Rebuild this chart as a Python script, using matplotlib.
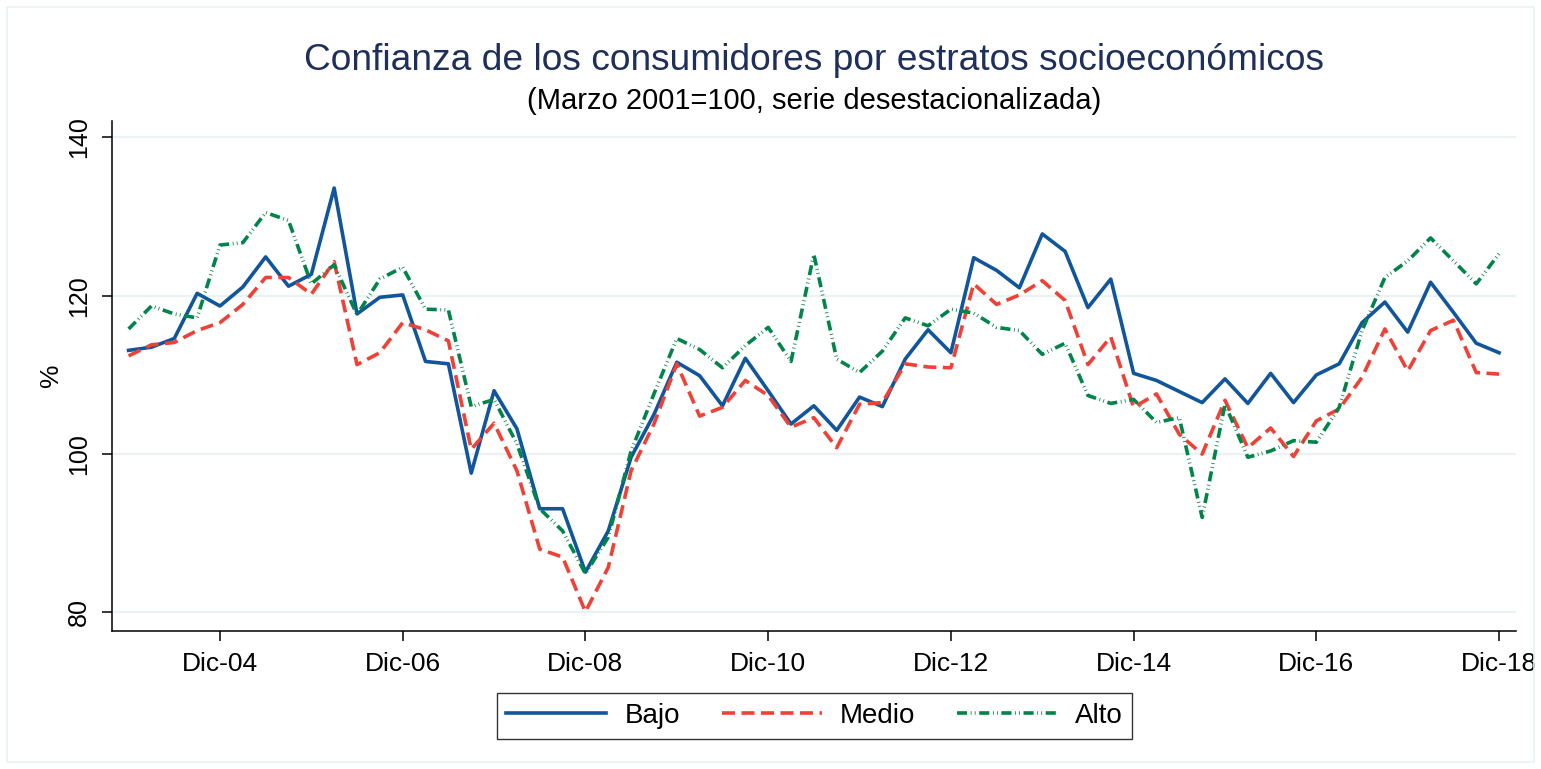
import matplotlib
matplotlib.use("Agg")
import matplotlib.pyplot as plt
from matplotlib.patches import Rectangle
import pandas as pd

# ---------------- data ----------------
periods = pd.period_range("2003Q4", "2018Q4", freq="Q")
month_es = {3: "Mar", 6: "Jun", 9: "Sep", 12: "Dic"}
quarter_labels = [f"{month_es[p.end_time.month]}-{str(p.year)[2:]}" for p in periods]

bajo = [113.1, 113.5, 114.6, 120.3, 118.7, 121.1, 124.9, 121.2, 122.7, 133.6,
        117.7, 119.8, 120.1, 111.7, 111.4, 97.6, 108.0, 103.2, 93.1, 93.1,
        85.1, 90.3, 99.6, 105.0, 111.6, 109.9, 106.1, 112.1, 108.0, 103.8,
        106.1, 103.0, 107.2, 106.0, 112.0, 115.7, 112.8, 124.8, 123.2, 121.0,
        127.8, 125.6, 118.5, 122.1, 110.2, 109.3, 107.9, 106.5, 109.5, 106.4,
        110.2, 106.5, 110.0, 111.4, 116.6, 119.2, 115.4, 121.7, 117.9, 114.0,
        112.8]
medio = [112.4, 113.8, 114.1, 115.6, 116.6, 118.9, 122.3, 122.3, 120.2, 124.3,
         111.3, 112.8, 116.6, 115.7, 114.3, 100.6, 103.9, 97.9, 88.0, 87.0,
         80.1, 85.7, 97.9, 103.8, 111.4, 104.8, 105.9, 109.3, 107.4, 103.4,
         104.6, 100.8, 106.3, 106.5, 111.4, 111.0, 110.9, 121.5, 118.9, 120.1,
         121.9, 119.4, 111.3, 114.8, 105.9, 107.6, 102.5, 100.0, 106.8, 100.8,
         103.3, 99.7, 104.2, 105.7, 109.7, 115.8, 110.5, 115.6, 116.9, 110.3,
         110.1]
alto = [115.8, 118.7, 117.7, 117.2, 126.4, 126.7, 130.5, 129.5, 121.5, 123.9,
        117.6, 122.1, 123.6, 118.3, 118.2, 106.0, 106.9, 101.3, 93.1, 90.3,
        84.9, 89.5, 100.4, 107.6, 114.6, 113.2, 110.9, 113.7, 116.0, 111.7,
        125.2, 112.0, 110.3, 113.0, 117.2, 116.2, 118.3, 117.8, 116.0, 115.6,
        112.6, 114.0, 107.4, 106.4, 106.9, 104.0, 104.6, 92.0, 106.3, 99.6,
        100.4, 101.7, 101.5, 105.9, 115.6, 122.3, 124.4, 127.3, 124.4, 121.5,
        125.3]
xtick_labels = ["Dic-04", "Dic-06", "Dic-08", "Dic-10", "Dic-12", "Dic-14", "Dic-16", "Dic-18"]
ytick_values = [80, 100, 120, 140]

title = "Confianza de los consumidores por estratos socioeconómicos"
subtitle = "(Marzo 2001=100, serie desestacionalizada)"

# ---------------- style ----------------
plt.rcParams["font.family"] = ["Liberation Sans", "DejaVu Sans"]

W, H = 1541, 769
fig = plt.figure(figsize=(W / 100, H / 100), dpi=100)
fig.patch.set_facecolor("white")

# faint outer frame
fig.patches.append(Rectangle((7 / W, 7 / H), (W - 14) / W, (H - 14) / H,
                             transform=fig.transFigure, fill=False,
                             edgecolor="#EAF2F3", linewidth=1.2))

ax_l, ax_r = 111.7 / W, 1516 / W
ax_b, ax_t = 1 - 630.7 / H, 1 - 120.7 / H
ax = fig.add_axes([ax_l, ax_b, ax_r - ax_l, ax_t - ax_b])

x = list(range(len(quarter_labels)))
blue, red, green = "#11559C", "#EF4136", "#00844A"
ax.plot(x, bajo, color=blue, lw=2.6, label="Bajo")
ax.plot(x, medio, color=red, lw=2.6, label="Medio", dashes=(3.6, 1.8))
ax.plot(x, alto, color=green, lw=2.6, label="Alto",
        dashes=(2.8, 1.0, 0.22, 0.9, 0.22, 1.0))

ax.set_xlim(-0.74, len(x) - 1 + 0.74)
ax.set_ylim(77.7, 142.1)

xt = [quarter_labels.index(l) for l in xtick_labels]
ax.set_xticks(xt)
ax.set_xticklabels(xtick_labels, fontsize=19)
ax.set_yticks(ytick_values)
ax.set_yticklabels([str(v) for v in ytick_values], fontsize=18,
                   rotation=90, va="center")
ax.tick_params(axis="both", direction="out", length=7, width=1.1, color="black", pad=8)

ax.grid(axis="y", color="#EAF2F3", linewidth=1.6)
ax.set_axisbelow(True)
for s in ["top", "right"]:
    ax.spines[s].set_visible(False)
for s in ["left", "bottom"]:
    ax.spines[s].set_linewidth(1.1)
    ax.spines[s].set_color("black")

ax.set_ylabel("%", fontsize=19, labelpad=3)

cx = (ax_l + ax_r) / 2
fig.text(cx, 1 - 70 / H, title, ha="center", va="baseline", fontsize=26.7, color="#1F2F5C")
fig.text(cx, 1 - 109 / H, subtitle, ha="center", va="baseline", fontsize=21, color="black")

leg = fig.legend(loc="center", bbox_to_anchor=((503 + 1126) / 2 / W, 1 - 716 / H),
                 ncol=3, fontsize=20, frameon=True, fancybox=False,
                 edgecolor="black", handlelength=3.6, columnspacing=1.5,
                 handletextpad=0.65, borderpad=0.35, borderaxespad=0)
leg.get_frame().set_linewidth(1.0)

fig.savefig("out.png", dpi=100, facecolor="white")
